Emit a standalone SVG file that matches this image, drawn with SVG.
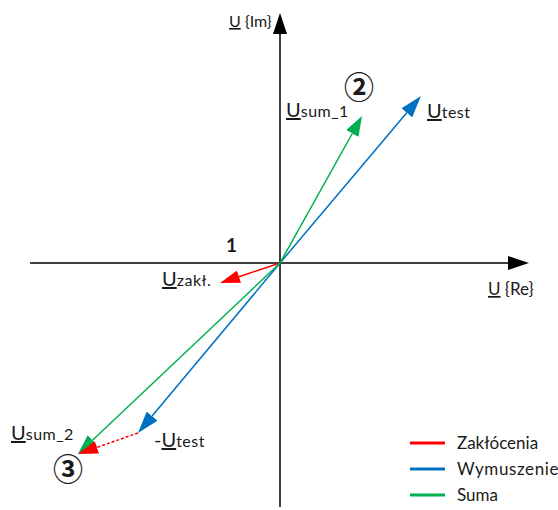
<svg xmlns="http://www.w3.org/2000/svg" width="558" height="510" viewBox="0 0 558 510">
<style>
text{font-family:Lato,"Open Sans","Noto Sans",sans-serif;fill:#1a1a1a}
.u{text-decoration:underline}
.big{font-size:20px}
.sub{font-size:16px;letter-spacing:0.5px}
.ax{stroke:#000;stroke-width:1.5;fill:none}
.v{stroke-width:1.5;fill:none}
.circ{font-family:"Noto Sans CJK SC","DejaVu Sans",sans-serif;font-size:30px;font-weight:bold;text-anchor:middle}
</style>
<defs>
<marker id="hk" markerUnits="userSpaceOnUse" markerWidth="21" markerHeight="14" viewBox="0 0 21 14" refX="0" refY="7" orient="auto"><path d="M0,0L21,7L0,14z" fill="#000"/></marker>
<marker id="hr" markerUnits="userSpaceOnUse" markerWidth="20" markerHeight="13" viewBox="0 0 20 13" refX="0" refY="6.5" orient="auto"><path d="M0,0L20,6.5L0,13z" fill="#FF0000"/></marker>
<marker id="hb" markerUnits="userSpaceOnUse" markerWidth="22" markerHeight="14" viewBox="0 0 22 14" refX="0" refY="7" orient="auto"><path d="M0,0L22,7L0,14z" fill="#0070C0"/></marker>
<marker id="hg" markerUnits="userSpaceOnUse" markerWidth="20" markerHeight="14" viewBox="0 0 20 14" refX="0" refY="7" orient="auto"><path d="M0,0L20,7L0,14z" fill="#00B050"/></marker>
</defs>
<g id="connectors">
<line id="axis-re" class="ax" x1="30" y1="263" x2="508" y2="263" marker-end="url(#hk)"/>
<line id="axis-im" class="ax" x1="280" y1="507" x2="280" y2="34" marker-end="url(#hk)"/>
<line id="v-utest" class="v" stroke="#0070C0" x1="280" y1="263" x2="406.8" y2="112.8" marker-end="url(#hb)"/>
<line id="v-usum1" class="v" stroke="#00B050" x1="280" y1="263" x2="352.3" y2="133.5" marker-end="url(#hg)"/>
<line id="v-uzakl" class="v" stroke="#FF0000" x1="280" y1="263" x2="239" y2="276.7" marker-end="url(#hr)"/>
<line id="v-mutest" class="v" stroke="#0070C0" x1="280" y1="263" x2="152.1" y2="416.1" marker-end="url(#hb)"/>
<line id="v-usum2" class="v" stroke="#00B050" x1="280" y1="263" x2="92.5" y2="440.3" marker-end="url(#hg)"/>
<line id="v-uzakl2" class="v" stroke="#FF0000" stroke-dasharray="3,2" x1="138" y1="433" x2="96.9" y2="447.4" marker-end="url(#hr)"/>
</g>
<g id="label-im"><text x="229" y="27" font-size="16"><tspan class="u">U</tspan> {Im}</text></g>
<g id="label-re"><text x="488" y="295" font-size="17"><tspan class="u">U</tspan> {Re}</text></g>
<g id="label-2"><text class="circ" x="359" y="98">②</text></g>
<g id="label-3"><text class="circ" x="68" y="480">③</text></g>
<g id="label-1"><text x="226" y="252" font-size="19" font-weight="bold">1</text></g>
<g id="label-usum1"><text x="286" y="117"><tspan class="u big">U</tspan><tspan class="sub">sum_1</tspan></text></g>
<g id="label-utest"><text x="427" y="118"><tspan class="u big">U</tspan><tspan class="sub">test</tspan></text></g>
<g id="label-uzakl"><text x="162" y="286"><tspan class="u big">U</tspan><tspan class="sub">zakł.</tspan></text></g>
<g id="label-usum2"><text x="11" y="440"><tspan class="u big">U</tspan><tspan class="sub">sum_2</tspan></text></g>
<g id="label-mutest"><text x="154" y="447"><tspan class="big">-</tspan><tspan class="u big">U</tspan><tspan class="sub">test</tspan></text></g>
<g id="legend">
<line x1="410" y1="443" x2="445" y2="443" stroke="#FF0000" stroke-width="3"/>
<line x1="410" y1="469" x2="445" y2="469" stroke="#0070C0" stroke-width="3"/>
<line x1="410" y1="495" x2="445" y2="495" stroke="#00B050" stroke-width="3"/>
<text x="457" y="449" font-size="17">Zakłócenia</text>
<text x="457" y="475" font-size="17" letter-spacing="0.6">Wymuszenie</text>
<text x="457" y="501" font-size="17">Suma</text>
</g>
</svg>
